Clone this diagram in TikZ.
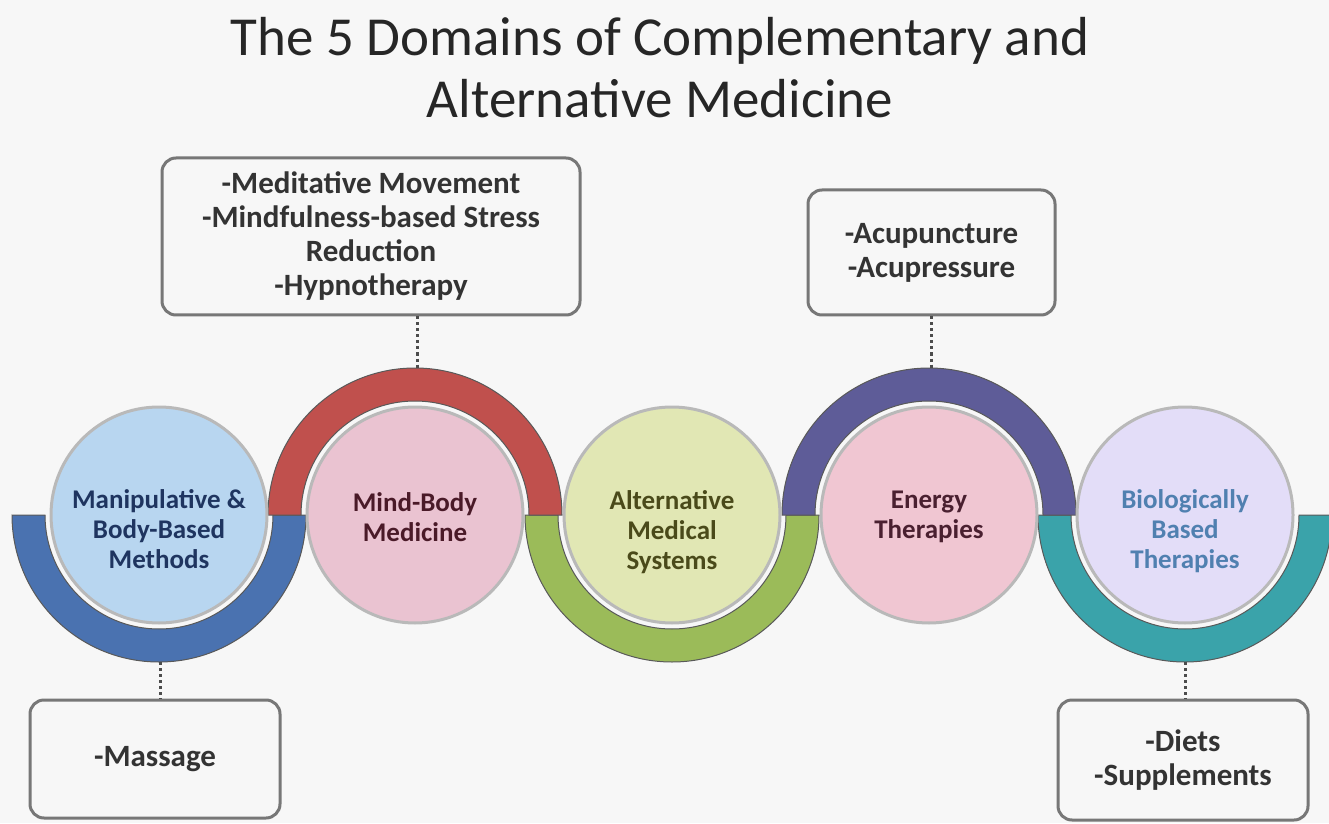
\documentclass[tikz,border=0pt]{standalone}
\usepackage{fontspec}
\setmainfont{Carlito}
\definecolor{bg}{HTML}{F7F7F7}
\definecolor{ringA}{HTML}{4A72B0}
\definecolor{ringB}{HTML}{C0504D}
\definecolor{ringC}{HTML}{9BBB59}
\definecolor{ringD}{HTML}{5E5C98}
\definecolor{ringE}{HTML}{3AA3AA}
\definecolor{diskA}{HTML}{B8D6F0}
\definecolor{diskB}{HTML}{EAC3D1}
\definecolor{diskC}{HTML}{E1E7B4}
\definecolor{diskD}{HTML}{F0C6D2}
\definecolor{diskE}{HTML}{E3DDF8}
\definecolor{txtA}{HTML}{1F3560}
\definecolor{txtB}{HTML}{4A1A28}
\definecolor{txtC}{HTML}{4A4A1A}
\definecolor{txtD}{HTML}{4A2030}
\definecolor{txtE}{HTML}{5080B0}
\definecolor{boxline}{HTML}{777777}
\definecolor{boxtext}{HTML}{333333}
\begin{document}
\begin{tikzpicture}[x=1pt,y=1pt,
  disk/.style={circle,minimum size=216pt,inner sep=0pt,draw=gray!55,line width=3pt},
  disktext/.style={font=\fontsize{27}{30}\selectfont\bfseries,align=center},
  infobox/.style={draw=boxline,line width=3pt,rounded corners=14pt,fill=white!97!black,
    text=boxtext,font=\fontsize{31}{34}\selectfont\bfseries,align=center,inner sep=0pt},
  ringedge/.style={draw=black!65,line width=1pt},
  link/.style={draw=black!70,line width=3pt,dash pattern=on 3pt off 3pt}]
\fill[bg] (0,0) rectangle (1329,823);
\useasboundingbox (0,0) rectangle (1329,823);

% title
\node[font=\fontsize{55}{62}\selectfont,text=black!85,align=center] (title) at (660,755)
  {The 5 Domains of Complementary and\\Alternative Medicine};

% rings (R=147, r=114), centre y=308
\def\R{147}\def\r{114}
% bottom half rings
\foreach \cx/\col in {159/ringA,672/ringC,1185/ringE}{
  \filldraw[fill=\col,ringedge] (\cx-\R,308) arc[start angle=180,end angle=360,radius=\R]
     -- (\cx+\r,308) arc[start angle=360,end angle=180,radius=\r] -- cycle;
}
% top half rings
\foreach \cx/\col in {415/ringB,929/ringD}{
  \filldraw[fill=\col,ringedge] (\cx-\R,308) arc[start angle=180,end angle=0,radius=\R]
     -- (\cx+\r,308) arc[start angle=0,end angle=180,radius=\r] -- cycle;
}

% disks
\node[disk,fill=diskA] (c1) at (159,308) {};
\node[disk,fill=diskB] (c2) at (415,308) {};
\node[disk,fill=diskC] (c3) at (672,308) {};
\node[disk,fill=diskD] (c4) at (929,308) {};
\node[disk,fill=diskE] (c5) at (1185,308) {};

\node[disktext,text=txtA] (t1) at (159,294) {Manipulative \&\\Body-Based\\Methods};
\node[disktext,text=txtB] (t2) at (415,306) {Mind-Body\\Medicine};
\node[disktext,text=txtC] (t3) at (672,291) {Alternative\\Medical\\Systems};
\node[disktext,text=txtD] (t4) at (929,306) {Energy\\Therapies};
\node[disktext,text=txtE] (t5) at (1185,292) {Biologically\\Based\\Therapies};

% boxes
\node[infobox,minimum width=418pt,minimum height=157pt] (boxA) at (371,586.5)
  {-Meditative Movement\\-Mindfulness-based Stress\\Reduction\\-Hypnotherapy};
\node[infobox,minimum width=247pt,minimum height=125pt] (boxB) at (931.5,570.5)
  {-Acupuncture\\-Acupressure};
\node[infobox,minimum width=250pt,minimum height=118pt] (boxC) at (155,64)
  {-Massage};
\node[infobox,minimum width=250pt,minimum height=120pt] (boxD) at (1183,63)
  {-Diets\\-Supplements};

% connector anchor points on the rings
\coordinate (r2top) at (417,455);
\coordinate (r4top) at (931,455);
\coordinate (r1bot) at (160,161);
\coordinate (r5bot) at (1185,161);

\draw[link] (r2top |- boxA.south) -- (r2top);
\draw[link] (r4top |- boxB.south) -- (r4top);
\draw[link] (r1bot) -- (r1bot |- boxC.north);
\draw[link] (r5bot) -- (r5bot |- boxD.north);
\end{tikzpicture}
\end{document}
